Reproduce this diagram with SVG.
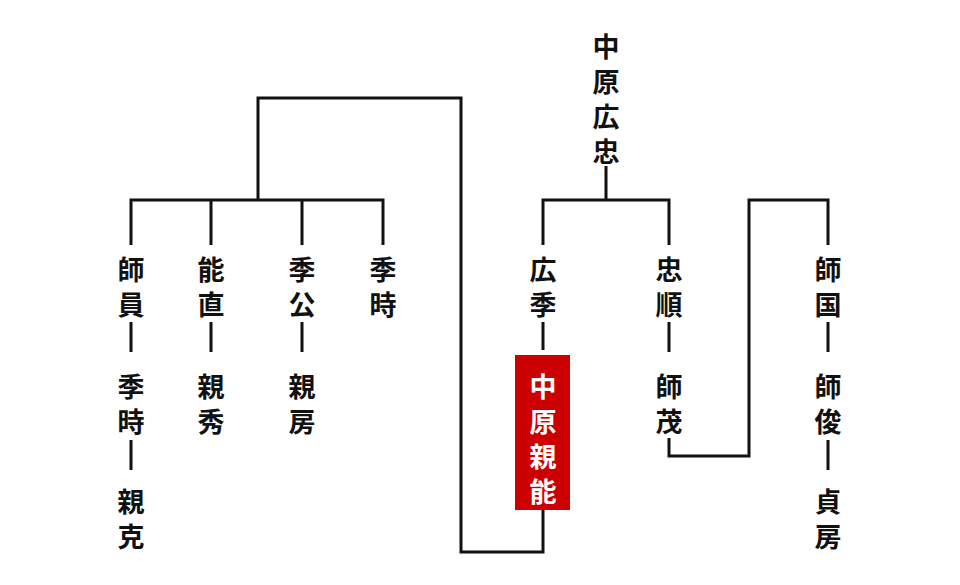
<svg xmlns="http://www.w3.org/2000/svg" width="960" height="585" viewBox="0 0 960 585">
<style>
.t{font-family:"Noto Sans CJK JP",sans-serif;font-size:27px;font-weight:700;text-anchor:middle;dominant-baseline:central;fill:#111}
.w{fill:#fff;font-weight:700}
.c{stroke:#111;stroke-width:3;fill:none}
</style>
<rect width="960" height="585" fill="#fff"/>
<g id="connectors">
<path class="c" d="M606 166V200M543 245V200H669V245M543 322V350M543 510V552H461V98H258V200M131 245V200H383V245M211 200V245M302 200V245M131 322V352M131 440V470M211 322V352M302 322V352M669 322V352M669 438V456H749V200H828V245M828 322V352M828 440V470"/>
</g>
<g id="n1"><text class="t" x="606" y="45">中</text><text class="t" x="606" y="80">原</text><text class="t" x="606" y="115">広</text><text class="t" x="606" y="150">忠</text></g>
<g id="n2"><text class="t" x="543" y="268">広</text><text class="t" x="543" y="303">季</text></g>
<g id="n3"><rect x="515" y="355" width="55" height="155" fill="#cc0000"/><text class="t w" x="543" y="385">中</text><text class="t w" x="543" y="420">原</text><text class="t w" x="543" y="455">親</text><text class="t w" x="543" y="490">能</text></g>
<g id="n4"><text class="t" x="131" y="268">師</text><text class="t" x="131" y="303">員</text></g>
<g id="n5"><text class="t" x="131" y="385">季</text><text class="t" x="131" y="420">時</text></g>
<g id="n6"><text class="t" x="131" y="500">親</text><text class="t" x="131" y="535">克</text></g>
<g id="n7"><text class="t" x="211" y="268">能</text><text class="t" x="211" y="303">直</text></g>
<g id="n8"><text class="t" x="211" y="385">親</text><text class="t" x="211" y="420">秀</text></g>
<g id="n9"><text class="t" x="302" y="268">季</text><text class="t" x="302" y="303">公</text></g>
<g id="n10"><text class="t" x="302" y="385">親</text><text class="t" x="302" y="420">房</text></g>
<g id="n11"><text class="t" x="383" y="268">季</text><text class="t" x="383" y="303">時</text></g>
<g id="n12"><text class="t" x="669" y="268">忠</text><text class="t" x="669" y="303">順</text></g>
<g id="n13"><text class="t" x="669" y="385">師</text><text class="t" x="669" y="420">茂</text></g>
<g id="n14"><text class="t" x="828" y="268">師</text><text class="t" x="828" y="303">国</text></g>
<g id="n15"><text class="t" x="828" y="385">師</text><text class="t" x="828" y="420">俊</text></g>
<g id="n16"><text class="t" x="828" y="500">貞</text><text class="t" x="828" y="535">房</text></g>
</svg>
